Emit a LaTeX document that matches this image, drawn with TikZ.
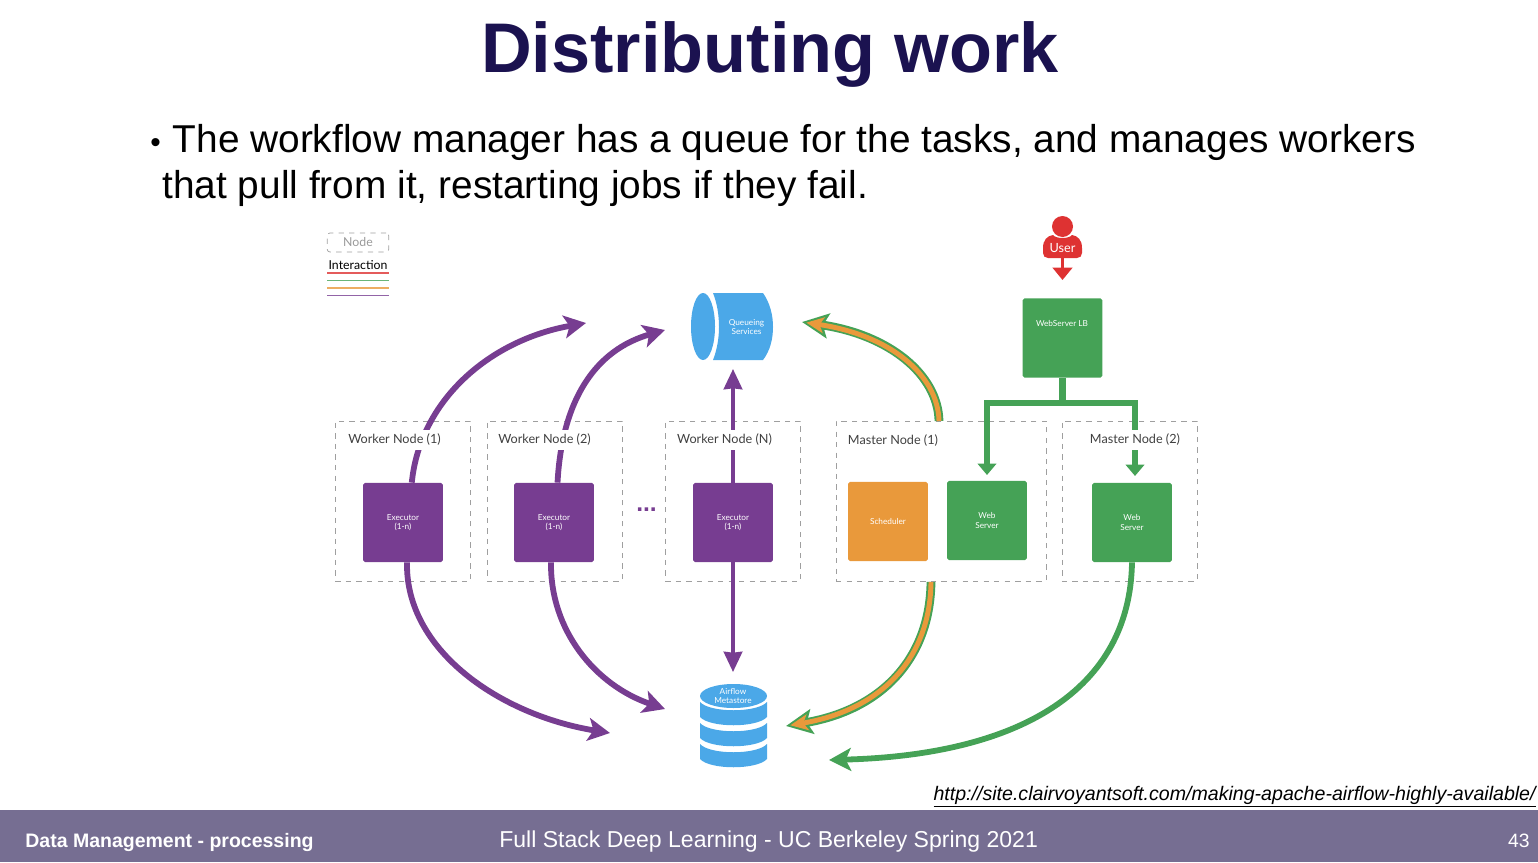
\documentclass[tikz,border=0pt]{standalone}
\usepackage{fontspec}
\setmainfont{Liberation Sans}
\newfontfamily\diagfont{Lato}
\usepackage{xcolor}
\usetikzlibrary{arrows.meta, positioning}
\definecolor{titlenavy}{RGB}{27, 18, 80}
\definecolor{footgray}{RGB}{118, 110, 146}
\definecolor{execpurple}{RGB}{119, 61, 145}
\definecolor{webgreen}{RGB}{69, 162, 86}
\definecolor{schedorange}{RGB}{233, 153, 59}
\definecolor{storeblue}{RGB}{75, 168, 232}
\definecolor{userred}{RGB}{222, 50, 50}

\begin{document}
\begin{tikzpicture}[
    x=0.02cm, y=-0.02cm,
    hostbox/.style={rectangle, draw=gray!75, dashed, line width=0.4pt},
    hostlabel/.style={fill=white, inner xsep=1pt, inner ysep=0pt, minimum height=11.3pt,
                      font=\diagfont\fontsize{7.2}{8}\selectfont, text=black!75},
    svcbox/.style={rectangle, rounded corners=1pt, fill=#1, minimum width=45.4pt, minimum height=45pt,
                   inner sep=0pt, align=center, text=white, font=\diagfont\fontsize{4.7}{5.2}\selectfont},
    svctext/.style={inner sep=0pt, align=center, text=white, font=\diagfont\fontsize{4.7}{5}\selectfont},
    bigflow/.style={line width=3.3pt, draw=#1, -{Stealth[length=12.5pt, width=13pt, inset=3pt]}},
    thinflow/.style={line width=2pt, draw=#1, -{Stealth[length=11.5pt, width=10.5pt, inset=0.5pt]}},
    branch/.style={line width=3.6pt, draw=webgreen, -{Stealth[length=6.5pt, width=10.5pt, inset=0pt]}},
    mixouter/.style={line width=5pt, draw=webgreen, -{Stealth[length=15pt, width=14pt, inset=3pt]}},
    mixinner/.style={line width=2.8pt, draw=schedorange, shorten >=2.5pt, -{Stealth[length=10pt, width=9pt, inset=2.5pt]}}
]
    \useasboundingbox (0,0) rectangle (1538,862);

    % Title and bullet
    \node[font=\bfseries\fontsize{40}{44}\selectfont, text=titlenavy] (title) at (770,54) {Distributing work};
    \node[anchor=north west, inner sep=0pt, align=left, font=\fontsize{22.1}{26}\selectfont] (bullet) at (150,124)
        {{\fontsize{17}{26}\selectfont •}\hspace{6.8pt}The workflow manager has a queue for the tasks, and manages workers\\
         \hspace*{6.8pt}that pull from it, restarting jobs if they fail.};

    % Legend
    \node[draw=gray!75, dashed, rounded corners=1.5pt, line width=0.4pt, minimum width=35pt, minimum height=10.8pt,
          inner sep=0pt, text=gray!80, font=\diagfont\fontsize{7}{7}\selectfont] (lgnode) at (358,242.5) {Node};
    \node[inner sep=0pt, font=\diagfont\fontsize{7}{7}\selectfont] (lgtext) at (358,265) {Interaction};
    \foreach \ly/\lc in {273/userred, 280.5/webgreen, 288/schedorange, 295.5/execpurple}
        \draw[\lc!80, line width=0.75pt] (327,\ly) -- (389,\ly);

    % Host boxes
    \node[hostbox, minimum width=77pt, minimum height=91pt] (wn1) at (403,501) {};
    \node[hostbox, minimum width=77pt, minimum height=91pt] (wn2) at (554.5,501) {};
    \node[hostbox, minimum width=77pt, minimum height=91pt] (wnN) at (733,501) {};
    \node[hostbox, minimum width=119.5pt, minimum height=91pt] (mn1) at (941,501) {};
    \node[hostbox, minimum width=77pt, minimum height=91pt] (mn2) at (1129.5,501) {};

    % Free arrow ends
    \coordinate (qtip1) at (586,323);
    \coordinate (qtip2) at (665,330);
    \coordinate (qtip3) at (733,369);
    \coordinate (qtip4) at (802,322);
    \coordinate (dtip1) at (610,733);
    \coordinate (dtip2) at (665,709);
    \coordinate (dtip3) at (733,672);
    \coordinate (dtip4) at (786,726);
    \coordinate (dtip5) at (829,760);
    \coordinate (mnout) at (939,421);
    \coordinate (mnback) at (931,582);
    \coordinate (webleft) at (987,475);
    \coordinate (webright) at (1135,476);
    \coordinate (usertip) at (1062.5,280);

    % Executors, scheduler, web servers
    \node[svcbox=execpurple] (ex1) at (403,522.5) {Executor\\(1-n)};
    \node[svcbox=execpurple] (ex2) at (554,522.5) {Executor\\(1-n)};
    \node[svcbox=execpurple] (exN) at (733,522.5) {Executor\\(1-n)};
    \node[svcbox=schedorange] (sched) at (888,521.5) {Scheduler};
    \node[svcbox=webgreen] (web1) at (987,520.5) {Web\\Server};
    \node[svcbox=webgreen] (web2) at (1132,522.5) {Web\\Server};
    \node[svcbox=webgreen] (lb) at (1062.5,338) {};
    \node[svctext] (lbtext) at (1062,323.5) {WebServer LB};

    % Queue
    \fill[storeblue] (703,326.5) ellipse (12 and 33.5);
    \fill[storeblue] (713,293) -- (763,293) .. controls (770,303) and (773,315) .. (773,327)
        .. controls (773,339) and (770,351) .. (763,360) -- (713,360)
        .. controls (717,350) and (719,338) .. (719,327) .. controls (719,315) and (717,303) .. (713,293) -- cycle;
    \node[svctext] (queue) at (746.5,327) {Queueing\\Services};

    % Metastore
    \fill[storeblue] (733.5,696) ellipse (33.5 and 12);
    \foreach \by in {702,723,744}
        \fill[storeblue] (700,\by) .. controls (710,\by+11) and (757,\by+11) .. (767,\by) -- (767,\by+15)
            .. controls (757,\by+26) and (710,\by+26) .. (700,\by+15) -- cycle;
    \node[svctext] (store) at (733,696) {Airflow\\Metastore};

    % User
    \fill[userred] (1062.5,226.5) circle (10.5);
    \fill[userred] (1048,258) .. controls (1045,258) and (1043,256) .. (1043,253) -- (1043,248)
        .. controls (1043,240) and (1047,236) .. (1053,235) .. controls (1056,239) and (1069,239) .. (1072,235)
        .. controls (1078,236) and (1082,240) .. (1082,248) -- (1082,253)
        .. controls (1082,256) and (1080,258) .. (1077,258) -- cycle;
    \node[inner sep=0pt, minimum height=11.3pt, text=white, font=\diagfont\fontsize{7.2}{8}\selectfont] (user) at (1062.5,248) {User};

    % Worker flows
    \draw[bigflow=execpurple] ([xshift=5pt]ex1.north) .. controls (420,400) and (490,340) .. (qtip1);
    \draw[bigflow=execpurple] ([xshift=2pt]ex2.north) .. controls (562,400) and (595,350) .. (qtip2);
    \draw[thinflow=execpurple] (exN.north) -- (qtip3);
    \draw[bigflow=execpurple] ([xshift=2.3pt]ex1.south) .. controls (405,650) and (500,715) .. (dtip1);
    \draw[bigflow=execpurple] ([xshift=-1.7pt]ex2.south) .. controls (550,630) and (595,685) .. (dtip2);
    \draw[thinflow=execpurple] (exN.south) -- (dtip3);

    % Master flows
    \draw[mixouter] (mnout) .. controls (938,375) and (890,335) .. (qtip4);
    \draw[mixinner] (mnout) .. controls (938,375) and (890,335) .. (qtip4);
    \draw[mixouter] (mnback) .. controls (930,660) and (880,710) .. (dtip4);
    \draw[mixinner] (mnback) .. controls (930,660) and (880,710) .. (dtip4);
    \draw[bigflow=webgreen] (web2.south) .. controls (1130,690) and (1020,755) .. (dtip5);

    % Load balancer branches
    \draw[line width=3.6pt, webgreen] (lb.south) -- (1062.5,403);
    \draw[branch] (1062.5,403) -| (webleft);
    \draw[branch] (1062.5,403) -| (webright);
    \draw[line width=1.7pt, userred, -{Stealth[length=7pt, width=11pt, inset=0pt]}] (user.south) -- (usertip);

    % Host labels go over the flows
    \node[hostlabel] (wn1lab) at (394.5,440) {Worker Node (1)};
    \node[hostlabel] (wn2lab) at (544.5,440) {Worker Node (2)};
    \node[hostlabel] (wnNlab) at (724.5,440) {Worker Node (N)};
    \node[hostlabel] (mn1lab) at (893,441) {Master Node (1)};
    \node[hostlabel] (mn2lab) at (1135,440) {Master Node (2)};
    \node[text=execpurple, inner sep=0pt, font=\bfseries\fontsize{14}{15}\selectfont] (dots) at (646.5,510) {...};

    % Source link
    \node[anchor=east, inner sep=0pt, font=\itshape\fontsize{11.15}{13}\selectfont] (source) at (1536,797)
        {\underline{http://site.clairvoyantsoft.com/making-apache-airflow-highly-available/}};

    % Footer
    \fill[footgray] (0,810) rectangle (1538,862);
    \node[anchor=west, inner sep=0pt, text=white, font=\bfseries\fontsize{11.1}{13}\selectfont] (footl) at (25,842) {Data Management - processing};
    \node[anchor=west, inner sep=0pt, text=white, font=\fontsize{13.1}{15}\selectfont] (footm) at (499,842) {Full Stack Deep Learning - UC Berkeley Spring 2021};
    \node[anchor=east, inner sep=0pt, text=white, font=\fontsize{11}{13}\selectfont] (footr) at (1530,841) {43};
\end{tikzpicture}
\end{document}
